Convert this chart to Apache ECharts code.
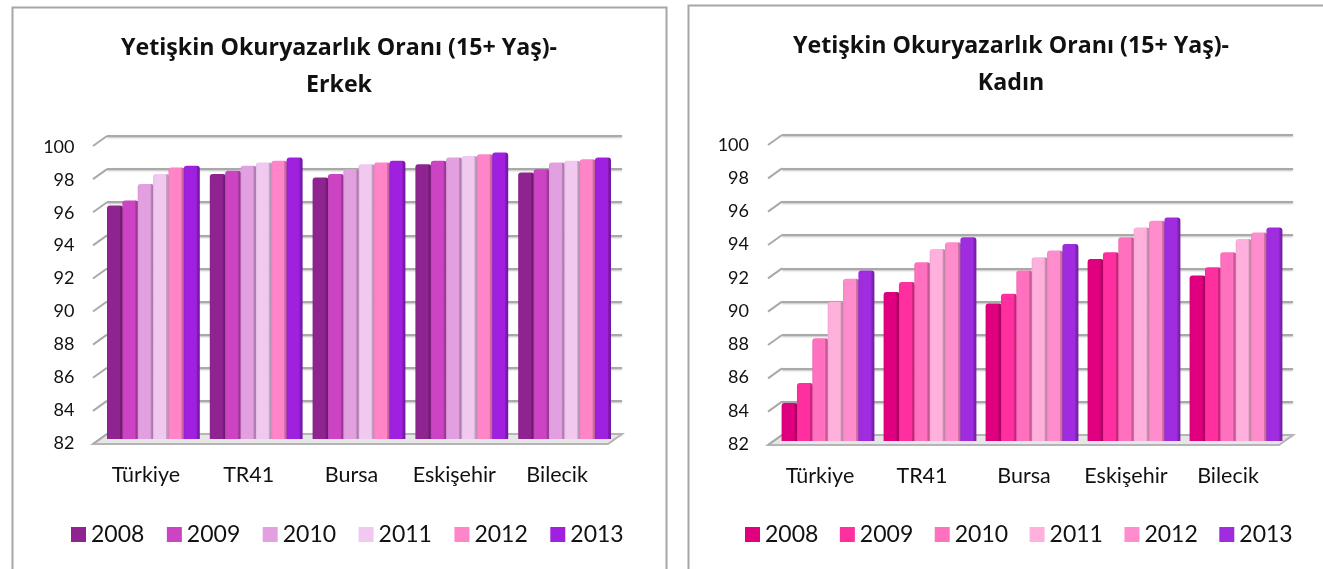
<!DOCTYPE html>
<html><head><meta charset="utf-8">
<style>html,body{margin:0;padding:0;background:#fff}#c{width:1323px;height:569px}</style>
<script src="https://cdn.jsdelivr.net/npm/echarts@6/dist/echarts.min.js"></script>
</head><body><div id="c"></div>
<script>
const categories = ['Türkiye','TR41','Bursa','Eskişehir','Bilecik'];
const years = ['2008','2009','2010','2011','2012','2013'];
const tickValues = [82,84,86,88,90,92,94,96,98,100];
const erkek2008 = [96.1,98.0,97.8,98.6,98.1];
const erkek2009 = [96.4,98.2,98.0,98.8,98.3];
const erkek2010 = [97.4,98.5,98.3,99.0,98.7];
const erkek2011 = [98.0,98.7,98.6,99.1,98.8];
const erkek2012 = [98.4,98.8,98.7,99.2,98.9];
const erkek2013 = [98.5,99.0,98.8,99.3,99.0];
const kadin2008 = [84.3,91.0,90.3,93.0,92.0];
const kadin2009 = [85.5,91.6,90.9,93.4,92.5];
const kadin2010 = [88.2,92.8,92.3,94.3,93.4];
const kadin2011 = [90.4,93.6,93.1,94.9,94.2];
const kadin2012 = [91.8,94.0,93.5,95.3,94.6];
const kadin2013 = [92.3,94.3,93.9,95.5,94.9];
const erkekColors = ['#8F2490','#CC44C4','#E3A0E0','#F0C8F0','#FF85C8','#A020E0'];
const kadinColors = ['#E0007F','#FF2FA0','#FF70BE','#FFB0DC','#FF8CCC','#A02CE0'];
const erkekValues = [erkek2008,erkek2009,erkek2010,erkek2011,erkek2012,erkek2013];
const kadinValues = [kadin2008,kadin2009,kadin2010,kadin2011,kadin2012,kadin2013];

const FONT = 'Lato';
function shade(hex, f){
  const n = parseInt(hex.slice(1),16);
  const c = s => Math.round(((n>>s)&255)*f);
  return `rgb(${c(16)},${c(8)},${c(0)})`;
}
const option = {
  animation:false, backgroundColor:'#fff',
  textStyle:{fontFamily:FONT},
  title:[], grid:[], xAxis:[], yAxis:[], series:[], legend:[],
  graphic:[
    {type:'rect',shape:{x:12.5,y:7.5,width:654,height:580},style:{fill:'none',stroke:'#a6a6a6',lineWidth:2}},
    {type:'rect',shape:{x:688.5,y:5.5,width:650,height:580},style:{fill:'none',stroke:'#a6a6a6',lineWidth:2}}
  ]
};
function addPanel(p){
  const base = option.grid.length;
  // 0: back wall, 1: bars, 2: front axis with labels
  option.grid.push(
    {left:p.backLeft,top:p.backTop,width:p.backWidth,height:p.backH},
    {left:p.barLeft,top:p.barTop,width:p.barWidth,height:p.barH},
    {left:p.frontLeft,top:p.frontTop,width:p.barWidth,height:p.frontH});
  [0,1,2].forEach(i=>{
    option.xAxis.push({gridIndex:base+i,type:'category',data:categories,
      axisLine:{show:false},axisTick:{show:false},
      axisLabel:i===2?{show:true,interval:0,fontSize:21.5,color:'#111',margin:p.catMargin,fontFamily:FONT}:{show:false}});
    option.yAxis.push({gridIndex:base+i,type:'value',min:82,max:100,interval:2,
      axisLine:{show:false},axisTick:{show:false},
      splitLine:i===0?{show:true,lineStyle:{color:'#a9a9a9',width:2,shadowColor:'rgba(0,0,0,0.25)',shadowBlur:2,shadowOffsetY:1}}:{show:false},
      axisLabel:i===2?{show:true,fontSize:18,color:'#111',margin:p.tickMargin,fontFamily:FONT}:{show:false}});
  });
  // slanted tick connectors and floor
  option.series.push({type:'custom',name:'_depth',xAxisIndex:base,yAxisIndex:base,z:1,silent:true,
    data:tickValues.map(v=>[0,v]),encode:{y:1},
    renderItem:(params,api)=>{
      const cs = params.coordSys;
      const y = api.coord([0,api.value(1)])[1];
      const x0 = cs.x, x1 = cs.x+cs.width, dx=14, dy=10;
      const kids = [{type:'line',shape:{x1:x0,y1:y,x2:x0-dx,y2:y+dy},
        style:{stroke:'#a9a9a9',lineWidth:2,fill:null}}];
      if(api.value(1)===82){
        kids.unshift({type:'polygon',shape:{points:[[x0,y],[x1,y],[x1-dx,y+dy],[x0-dx,y+dy]]},
          style:{fill:'#e6e6e6',stroke:'#b5b5b5',lineWidth:2}});
      }
      return {type:'group',children:kids};
    }});
  p.values.forEach((vals,i)=>{
    const col = p.colors[i];
    option.series.push({type:'bar',name:years[i],xAxisIndex:base+1,yAxisIndex:base+1,data:vals,z:3,
      barWidth:16,barGap:'-4%',
      itemStyle:{borderRadius:[3,3,0,0],
        color:{type:'linear',x:0,y:0,x2:1,y2:0,colorStops:[
          {offset:0,color:shade(col,0.94)},{offset:0.12,color:col},{offset:0.78,color:col},{offset:0.84,color:shade(col,0.82)},{offset:1,color:shade(col,0.7)}]}}
    });
  });
  option.title.push({text:p.title,left:p.titleX,top:p.titleTop,textAlign:'center',
    textStyle:{fontFamily:'Open Sans',fontWeight:'bold',fontSize:23.2,color:'#111',lineHeight:37}});
  option.legend.push({left:p.legendLeft,top:p.legendTop,itemWidth:15,itemHeight:15,itemGap:p.legendGap,selectedMode:false,icon:'rect',
    textStyle:{fontFamily:FONT,fontSize:23,color:'#111'},
    data:years.map((y,i)=>({name:y,itemStyle:{color:p.colors[i],borderWidth:0}}))});
}
addPanel({title:'Yetişkin Okuryazarlık Oranı (15+ Yaş)-\nErkek',titleX:334,titleTop:25,
  backLeft:107,backTop:136,backWidth:515,backH:298,
  barLeft:102,barTop:141,barWidth:514,barH:298,
  frontLeft:94.5,frontTop:147,frontH:296,catMargin:21,tickMargin:20,
  values:erkekValues,colors:erkekColors,legendLeft:66,legendTop:518,legendGap:22.5});
addPanel({title:'Yetişkin Okuryazarlık Oranı (15+ Yaş)-\nKadın',titleX:1006,titleTop:23,
  backLeft:782,backTop:135,backWidth:511,backH:300,
  barLeft:777,barTop:143,barWidth:510,barH:298,
  frontLeft:769,frontTop:145,frontH:299,catMargin:21,tickMargin:20,
  values:kadinValues,colors:kadinColors,legendLeft:740,legendTop:518,legendGap:21.5});
const chart = echarts.init(document.getElementById('c'),null,{renderer:'canvas'});
chart.setOption(option);
</script></body></html>
